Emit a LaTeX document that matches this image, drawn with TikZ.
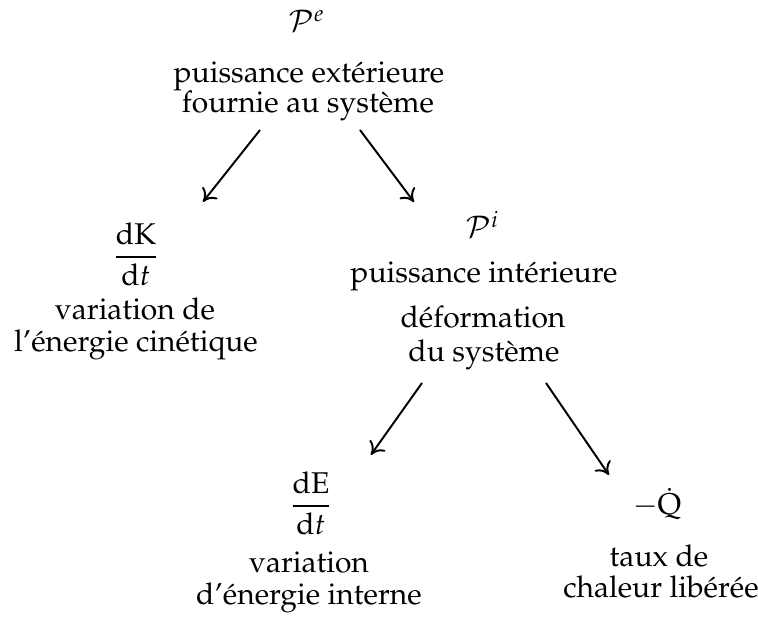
\documentclass[tikz,border=0pt]{standalone}
\usepackage[T1]{fontenc}
\usepackage{mathpazo}
\usetikzlibrary{arrows.meta,calc}
\begin{document}
\begin{tikzpicture}[x=0.3333pt,y=-0.3333pt,
  txt/.style={anchor=base,inner sep=0pt,font=\fontsize{10}{12}\selectfont},
  mth/.style={anchor=center,inner sep=0pt,font=\fontsize{10}{12}\selectfont},
  arr/.style={-{To[length=4pt,width=6.4pt,line width=0.65pt]},line width=0.65pt}]
\useasboundingbox (0,0) rectangle (758,619);
% top block
\node[txt] (pe) at (307,32) {$\mathcal{P}^e$};
\node[txt] (ext1) at (309,83) {puissance extérieure};
\node[txt] (ext2) at (308,113) {fournie au système};
% left block
\node[mth] (dk) at (136,254) {$\displaystyle\frac{\mathrm{dK}}{\mathrm{d}t}$};
\node[txt] (kin1) at (135,320) {variation de};
\node[txt] (kin2) at (136,352) {l'énergie cinétique};
% right block
\node[txt] (pi) at (483,238) {$\mathcal{P}^i$};
\node[txt] (int1) at (484,283) {puissance intérieure};
\node[txt] (int2) at (483,328) {déformation};
\node[txt] (int3) at (484,362) {du système};
% bottom left
\node[mth] (de) at (311,503) {$\displaystyle\frac{\mathrm{dE}}{\mathrm{d}t}$};
\node[txt] (en1) at (309,573) {variation};
\node[txt] (en2) at (309,605) {d'énergie interne};
% bottom right
\node[txt] (q) at (657,515) {$-\dot{\mathrm{Q}}$};
\node[txt] (ch1) at (659,567) {taux de};
\node[txt] (ch2) at (661,598) {chaleur libérée};
% arrows
\draw[arr] ($(ext2.base)+(-48,17)$) -- ($(dk.north)+(67,-20)$);
\draw[arr] ($(ext2.base)+(52,17)$) -- ($(pi.base)+(-69,-36)$);
\draw[arr] ($(int3.base)+(-62,21)$) -- ($(de.north)+(60,-16)$);
\draw[arr] ($(int3.base)+(62,21)$) -- ($(q.base)+(-48,-40)$);
\end{tikzpicture}
\end{document}
